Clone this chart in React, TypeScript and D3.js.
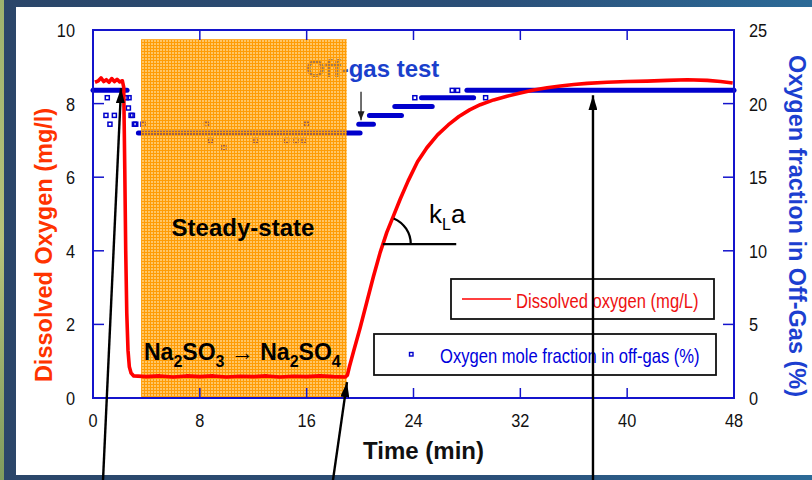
import React from "react";
import * as d3 from "d3";

// ---------------- data ----------------
const doTime = [
  0.15, 0.4, 0.6, 0.8, 1.0, 1.2, 1.4, 1.6, 1.8, 2.0, 2.2, 2.3, 2.38, 2.45, 2.53, 2.62, 2.72, 2.85, 3.05,
  4.0, 5.0, 6.0, 7.0, 8.0, 9.0, 10.0, 11.0, 12.0, 13.0, 14.0, 15.0, 16.0, 17.0, 18.0, 18.9,
  19.05, 19.2, 19.5, 20.0, 20.5, 21.0, 21.5, 22.0, 22.5, 23.0, 23.6, 24.3, 25.0, 25.8, 26.6, 27.4,
  28.2, 29.0, 30.0, 31.0, 32.0, 33.0, 34.0, 35.0, 36.0, 37.0, 38.5, 40.0, 41.5, 43.0, 44.5, 46.0, 47.0, 47.9,
];
const doValue = [
  8.58, 8.62, 8.7, 8.6, 8.65, 8.58, 8.68, 8.6, 8.66, 8.59, 8.62, 8.45, 6.2, 4.0, 2.3, 1.3, 0.85, 0.68, 0.6,
  0.58, 0.6, 0.57, 0.6, 0.58, 0.6, 0.57, 0.59, 0.58, 0.6, 0.57, 0.59, 0.58, 0.6, 0.58, 0.57,
  0.62, 0.85, 1.25, 1.9, 2.6, 3.3, 3.95, 4.5, 4.95, 5.4, 5.9, 6.42, 6.8, 7.15, 7.42, 7.65,
  7.83, 7.97, 8.1, 8.2, 8.29, 8.37, 8.43, 8.48, 8.52, 8.55, 8.58, 8.6, 8.61, 8.63, 8.65, 8.63, 8.6, 8.56,
];

// off-gas O2 fraction: dense runs of samples (start, end, value)
const runStart = [0, 3.4, 19.9, 20.7, 22.6, 24.6, 28.0];
const runEnd = [2.55, 20.0, 21.0, 23.1, 25.4, 28.5, 48];
const runValue = [20.9, 18.0, 18.6, 19.2, 19.8, 20.4, 20.9];

// off-gas isolated samples
const pointTime = [1.07, 0.97, 1.6, 1.27, 2.5, 2.7, 2.65, 2.85, 2.95, 3.1, 3.2, 3.75, 8.5, 16.0, 8.8, 12.2, 14.5, 15.2, 15.8, 9.8, 24.1, 29.4, 26.9, 27.3];
const pointValue = [20.4, 19.2, 19.2, 18.6, 20.4, 20.4, 19.7, 19.2, 19.2, 18.6, 18.6, 18.6, 18.6, 18.6, 17.5, 17.5, 17.5, 17.5, 17.5, 17.0, 20.4, 20.4, 20.9, 20.9];

const xTicks = [0, 8, 16, 24, 32, 40, 48];
const yLeftTicks = [0, 2, 4, 6, 8, 10];
const yRightTicks = [0, 5, 10, 15, 20, 25];

// ---------------- scales ----------------
const W = 812;
const H = 480;
const x = d3.scaleLinear().domain([0, 48]).range([93, 734]);
const yL = d3.scaleLinear().domain([0, 10]).range([398, 30]);
const yR = d3.scaleLinear().domain([0, 25]).range([398, 30]);

const AXIS = "#1414cc";
const SANS = "'Liberation Sans', Arial, Helvetica, sans-serif";

// narrow-looking text (horizontally condensed)
function NText(props: {
  x: number;
  y: number;
  anchor?: "start" | "middle" | "end";
  size: number;
  sx?: number;
  fill: string;
  children: React.ReactNode;
}) {
  const sx = props.sx ?? 0.85;
  return (
    <text
      transform={`translate(${props.x},${props.y}) scale(${sx},1)`}
      textAnchor={props.anchor ?? "start"}
      fontFamily={SANS}
      fontSize={props.size}
      fill={props.fill}
    >
      {props.children}
    </text>
  );
}

export default function App() {
  const doLine = d3
    .line<number>()
    .x((_, i) => x(doTime[i]))
    .y((d) => yL(d));

  const [x0, x1] = x.range();
  const [yb, yt] = yL.range();

  // annotation anchors in data units
  const steady = { t0: 3.6, t1: 19.0, top: 9.75 };
  const arrows = [
    { from: [0.75, -2.23], to: [2.1, 8.42] },
    { from: [17.97, -2.23], to: [19.02, 0.43] },
    { from: [37.44, -2.23], to: [37.44, 8.23] },
  ];
  const kla = { t: 21.7, v: 4.18, tEnd: 27.2 };
  const cx = x(kla.t);
  const cy = yL(kla.v);
  const r = 28;
  const a0 = (-67 * Math.PI) / 180;

  return (
    <svg
      width={W}
      height={H}
      style={{ position: "fixed", left: 0, top: 0, display: "block" }}
      xmlns="http://www.w3.org/2000/svg"
    >
      <defs>
        <linearGradient id="bg" x1="0" y1="0" x2="1" y2="0">
          <stop offset="0" stopColor="#2b4669" />
          <stop offset="0.6" stopColor="#2b4f78" />
          <stop offset="1" stopColor="#2c6a97" />
        </linearGradient>
        <linearGradient id="green" x1="0" y1="0" x2="0" y2="1">
          <stop offset="0" stopColor="#9db36e" />
          <stop offset="0.5" stopColor="#b8c47a" />
          <stop offset="1" stopColor="#7f9c5e" />
        </linearGradient>
        <pattern id="hatch" width="3" height="3" patternUnits="userSpaceOnUse">
          <rect x="0" y="0" width="3" height="3" fill="rgba(255,160,0,0.6)" />
          <rect x="0" y="0" width="3" height="1" fill="#ff9c05" />
          <rect x="0" y="0" width="1" height="3" fill="#ff9c05" />
        </pattern>
        <marker id="ah" viewBox="0 0 15 9" refX="15" refY="4.5" markerUnits="userSpaceOnUse" markerWidth="15" markerHeight="9" orient="auto">
          <path d="M0,0 L15,4.5 L0,9 z" fill="#000" />
        </marker>
        <marker id="ahs" viewBox="0 0 9 7" refX="9" refY="3.5" markerUnits="userSpaceOnUse" markerWidth="9" markerHeight="7" orient="auto">
          <path d="M0,0 L9,3.5 L0,7 z" fill="#222" />
        </marker>
      </defs>

      {/* slide background */}
      <rect x={0} y={0} width={W} height={H} fill="url(#bg)" />
      <rect x={0} y={0} width={4} height={H} fill="url(#green)" />
      <rect x={16} y={7} width={W - 16} height={468} fill="#ffffff" />

      {/* off-gas runs */}
      {runValue.map((v, i) => (
        <line
          key={"run" + i}
          x1={x(runStart[i])}
          x2={x(runEnd[i])}
          y1={yR(v)}
          y2={yR(v)}
          stroke="#0000cc"
          strokeWidth={5}
          strokeLinecap="round"
        />
      ))}
      {pointValue.map((v, i) => (
        <rect
          key={"pt" + i}
          x={x(pointTime[i]) - 2}
          y={yR(v) - 2}
          width={4}
          height={4}
          fill="none"
          stroke="#0000cc"
          strokeWidth={1.5}
        />
      ))}

      {/* Off-gas test label */}
      <text x={x(15.95)} y={yL(8.72)} fontFamily={SANS} fontWeight="bold" fontSize={24} fill="#1a3fcc">
        Off-gas test
      </text>

      {/* steady-state shaded region */}
      <rect
        x={x(steady.t0)}
        y={yL(steady.top)}
        width={x(steady.t1) - x(steady.t0)}
        height={yL(0) - yL(steady.top)}
        fill="url(#hatch)"
      />

      {/* axes frame */}
      <rect x={x0} y={yt} width={x1 - x0} height={yb - yt} fill="none" stroke={AXIS} strokeWidth={2} />
      {xTicks.slice(1, -1).map((t) => (
        <g key={"xt" + t}>
          <line x1={x(t)} x2={x(t)} y1={yb} y2={yb - 10} stroke={AXIS} strokeWidth={1.5} />
          <line x1={x(t)} x2={x(t)} y1={yt} y2={yt + 10} stroke={AXIS} strokeWidth={1.5} />
        </g>
      ))}
      {yLeftTicks.slice(1, -1).map((v) => (
        <line key={"ylt" + v} x1={x0} x2={x0 + 11} y1={yL(v)} y2={yL(v)} stroke={AXIS} strokeWidth={1.5} />
      ))}
      {yRightTicks.slice(1, -1).map((v) => (
        <line key={"yrt" + v} x1={x1} x2={x1 - 11} y1={yR(v)} y2={yR(v)} stroke={AXIS} strokeWidth={1.5} />
      ))}

      {/* tick labels */}
      {xTicks.map((t) => (
        <NText key={"xl" + t} x={x(t)} y={427} anchor="middle" size={19} sx={0.86} fill="#111">
          {t}
        </NText>
      ))}
      {yLeftTicks.map((v) => (
        <NText key={"yll" + v} x={75} y={yL(v) + 7} anchor="end" size={19} sx={0.86} fill="#111">
          {v}
        </NText>
      ))}
      {yRightTicks.map((v) => (
        <NText key={"yrl" + v} x={749} y={yR(v) + 7} anchor="start" size={19} sx={0.86} fill="#111">
          {v}
        </NText>
      ))}

      {/* axis titles */}
      <text x={(x0 + x1) / 2 + 10} y={459} textAnchor="middle" fontFamily={SANS} fontWeight="bold" fontSize={24} fill="#111">
        Time (min)
      </text>
      <text
        transform={`translate(51.5, 245) rotate(-90)`}
        textAnchor="middle"
        fontFamily={SANS}
        fontWeight="bold"
        fontSize={23.5}
        fill="#ff3300"
      >
        Dissolved Oxygen (mg/l)
      </text>
      <text
        transform={`translate(789, 226) rotate(90)`}
        textAnchor="middle"
        fontFamily={SANS}
        fontWeight="bold"
        fontSize={23.5}
        fill="#1c3fd0"
      >
        Oxygen fraction in Off-Gas (%)
      </text>

      {/* dissolved oxygen line */}
      <path d={doLine(doValue) || ""} fill="none" stroke="#ff0000" strokeWidth={3.6} strokeLinejoin="round" />

      {/* region texts */}
      <text x={x(11.23)} y={yL(4.4)} textAnchor="middle" fontFamily={SANS} fontWeight="bold" fontSize={24} fill="#000">
        Steady-state
      </text>
      <text x={x(3.82)} y={yL(1.03)} fontFamily={SANS} fontWeight="bold" fontSize={23} fill="#000">
        Na
        <tspan fontSize={16} dy={7}>2</tspan>
        <tspan dy={-7}>SO</tspan>
        <tspan fontSize={16} dy={7}>3</tspan>
        <tspan dy={-7} fontWeight="normal"> → </tspan>
        <tspan>Na</tspan>
        <tspan fontSize={16} dy={7}>2</tspan>
        <tspan dy={-7}>SO</tspan>
        <tspan fontSize={16} dy={7}>4</tspan>
      </text>

      {/* kLa annotation */}
      <line x1={cx} x2={x(kla.tEnd)} y1={cy} y2={cy} stroke="#000" strokeWidth={2.2} />
      <path
        d={`M${cx + r * Math.cos(a0)},${cy + r * Math.sin(a0)} A${r},${r} 0 0 1 ${cx + r},${cy}`}
        fill="none"
        stroke="#000"
        strokeWidth={2.2}
      />
      <text x={429} y={223} fontFamily={SANS} fontSize={26} fill="#000">
        k<tspan fontSize={16} dy={7}>L</tspan>
        <tspan dy={-7}>a</tspan>
      </text>

      {/* legends */}
      <rect x={451} y={279} width={263} height={40} fill="#fff" stroke="#111" strokeWidth={1.8} />
      <line x1={462} x2={511} y1={299} y2={299} stroke="#ff0000" strokeWidth={1.6} />
      <NText x={516} y={307.5} size={20} sx={0.83} fill="#ee1111">
        Dissolved oxygen (mg/L)
      </NText>
      <rect x={374} y={334} width={342} height={41} fill="#fff" stroke="#111" strokeWidth={1.8} />
      <rect x={409.5} y={352.5} width={3.5} height={3.5} fill="none" stroke="#0000cc" strokeWidth={1.4} />
      <NText x={440} y={363} size={20} sx={0.83} fill="#0000dd">
        Oxygen mole fraction in off-gas (%)
      </NText>

      {/* arrows */}
      {arrows.map((a, i) => (
        <line
          key={"ar" + i}
          x1={x(a.from[0])}
          y1={yL(a.from[1])}
          x2={x(a.to[0])}
          y2={yL(a.to[1])}
          stroke="#000"
          strokeWidth={2.4}
          markerEnd="url(#ah)"
        />
      ))}
      <line x1={x(20.07)} x2={x(20.07)} y1={yL(8.32)} y2={yL(7.55)} stroke="#222" strokeWidth={1.3} markerEnd="url(#ahs)" />
    </svg>
  );
}
